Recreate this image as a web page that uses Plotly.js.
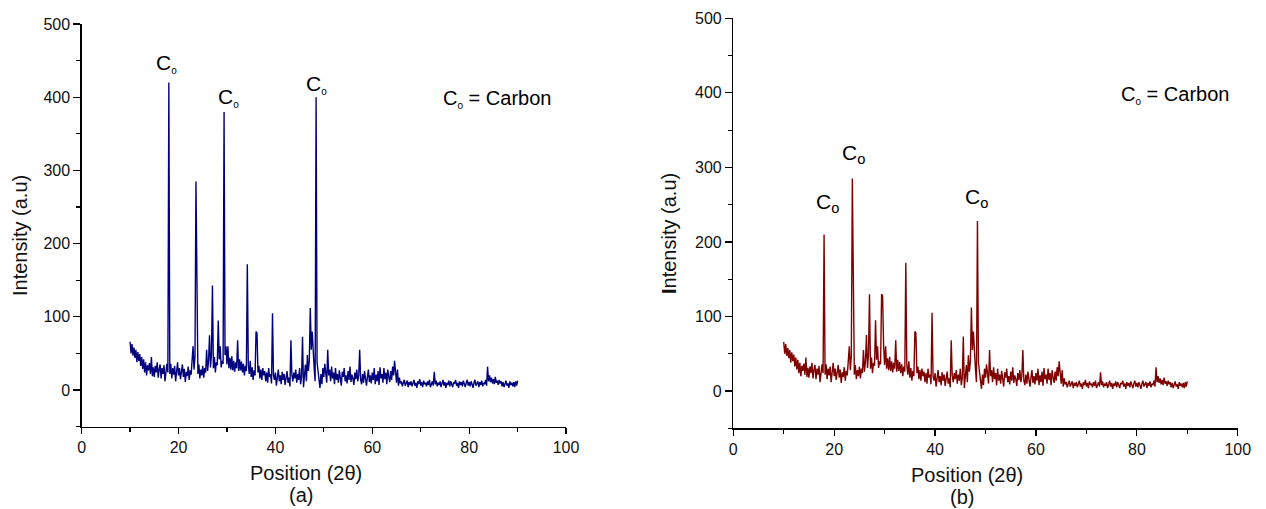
<!DOCTYPE html>
<html>
<head>
<meta charset="utf-8">
<script src="https://cdn.plot.ly/plotly-3.0.1.min.js"></script>
<style>html,body{margin:0;padding:0;background:#fff;}#chart{width:1266px;height:509px;}</style>
</head>
<body>
<div id="chart"></div>
<script>
// 2-theta positions (degrees)
const twoTheta = [
10,10.2,10.4,10.6,10.8, 11,11.2,11.4,11.6,11.8, 12,12.2,12.4,12.6,12.8, 13,13.2,13.4,13.6,13.8,
14,14.2,14.4,14.6,14.8, 15,15.2,15.4,15.6,15.8, 16,16.2,16.4,16.6,16.8, 17,17.2,17.4,17.6,17.8,
18,18.2,18.4,18.6,18.8, 19,19.2,19.4,19.6,19.8, 20,20.2,20.4,20.6,20.8, 21,21.2,21.4,21.6,21.8,
22,22.2,22.4,22.6,22.8, 23,23.2,23.4,23.6,23.8, 24,24.2,24.4,24.6,24.8, 25,25.2,25.4,25.6,25.8,
26,26.2,26.4,26.6,26.8, 27,27.2,27.4,27.6,27.8, 28,28.2,28.4,28.6,28.8, 29,29.2,29.4,29.6,29.8,
30,30.2,30.4,30.6,30.8, 31,31.2,31.4,31.6,31.8, 32,32.2,32.4,32.6,32.8, 33,33.2,33.4,33.6,33.8,
34,34.2,34.4,34.6,34.8, 35,35.2,35.4,35.6,35.8, 36,36.2,36.4,36.6,36.8, 37,37.2,37.4,37.6,37.8,
38,38.2,38.4,38.6,38.8, 39,39.2,39.4,39.6,39.8, 40,40.2,40.4,40.6,40.8, 41,41.2,41.4,41.6,41.8,
42,42.2,42.4,42.6,42.8, 43,43.2,43.4,43.6,43.8, 44,44.2,44.4,44.6,44.8, 45,45.2,45.4,45.6,45.8,
46,46.2,46.4,46.6,46.8, 47,47.2,47.4,47.6,47.8, 48,48.2,48.4,48.6,48.8, 49,49.2,49.4,49.6,49.8,
50,50.2,50.4,50.6,50.8, 51,51.2,51.4,51.6,51.8, 52,52.2,52.4,52.6,52.8, 53,53.2,53.4,53.6,53.8,
54,54.2,54.4,54.6,54.8, 55,55.2,55.4,55.6,55.8, 56,56.2,56.4,56.6,56.8, 57,57.2,57.4,57.6,57.8,
58,58.2,58.4,58.6,58.8, 59,59.2,59.4,59.6,59.8, 60,60.2,60.4,60.6,60.8, 61,61.2,61.4,61.6,61.8,
62,62.2,62.4,62.6,62.8, 63,63.2,63.4,63.6,63.8, 64,64.2,64.4,64.6,64.8, 65,65.2,65.4,65.6,65.8,
66,66.2,66.4,66.6,66.8, 67,67.2,67.4,67.6,67.8, 68,68.2,68.4,68.6,68.8, 69,69.2,69.4,69.6,69.8,
70,70.2,70.4,70.6,70.8, 71,71.2,71.4,71.6,71.8, 72,72.2,72.4,72.6,72.8, 73,73.2,73.4,73.6,73.8,
74,74.2,74.4,74.6,74.8, 75,75.2,75.4,75.6,75.8, 76,76.2,76.4,76.6,76.8, 77,77.2,77.4,77.6,77.8,
78,78.2,78.4,78.6,78.8, 79,79.2,79.4,79.6,79.8, 80,80.2,80.4,80.6,80.8, 81,81.2,81.4,81.6,81.8,
82,82.2,82.4,82.6,82.8, 83,83.2,83.4,83.6,83.8, 84,84.2,84.4,84.6,84.8, 85,85.2,85.4,85.6,85.8,
86,86.2,86.4,86.6,86.8, 87,87.2,87.4,87.6,87.8, 88,88.2,88.4,88.6,88.8, 89,89.2,89.4,89.6,89.8,
90
];

// Intensity, sample (a)
const intensityA = [
66,50,63,47,58, 44,55,38,52,40, 49,33,45,29,42, 24,38,20,34,27,
37,22,45,19,31, 18,33,24,38,17, 28,35,16,30,22, 34,12,27,36,24,
420,22,36,16,30, 21,33,12,28,38, 20,30,15,27,35, 18,29,11,25,19,
32,14,27,21,36, 60,28,46,285,172, 22,35,16,28,20, 33,17,30,24,55,
26,40,75,31,48, 143,30,45,24,38, 34,95,42,60,31, 40,36,380,48,60,
35,60,30,44,28, 46,27,40,25,38, 30,68,26,42,27, 39,24,36,20,33,
26,172,35,22,40, 18,31,14,27,20, 80,78,24,33,16, 28,14,30,20,26,
12,24,10,30,18, 22,9,105,20,14, 24,6,19,28,12, 20,8,25,14,22,
7,18,26,10,17, 5,68,21,12,24, 16,28,10,22,14, 30,8,18,73,4,
22,35,12,48,26, 40,112,55,80,45, 30,12,400,38,25, 14,3,22,8,30,
18,36,24,10,55, 20,28,12,32,16, 24,8,30,14,22, 10,27,16,6,25,
18,30,12,20,9, 26,14,32,11,21, 16,7,24,15,28, 12,20,55,14,8,
22,10,26,16,6, 18,28,11,20,9, 24,14,30,8,21, 12,26,7,31,16,
22,10,30,15,24, 8,28,18,11,26, 14,32,20,40,24, 10,28,6,17,9,
12,5,10,14,6, 9,13,4,11,7, 12,5,9,14,6, 10,3,12,8,15,
6,11,4,13,8, 10,5,12,7,14, 4,9,12,6,25, 8,13,5,10,7,
12,4,9,14,6, 11,3,10,7,13, 5,12,8,4,11, 9,14,6,10,3,
12,7,11,5,13, 8,4,10,14,6, 11,5,12,8,3, 10,14,6,9,12,
4,11,7,13,5, 10,8,14,6,32, 12,20,11,17,9, 15,8,18,10,13,
7,14,9,12,5, 11,4,10,13,6, 9,3,12,7,10, 5,11,4,12,6,
13
];

// Intensity, sample (b)
const intensityB = [
66,50,63,47,58, 44,55,38,52,40, 49,33,45,29,42, 24,38,20,34,27,
37,22,45,19,31, 18,33,24,38,17, 28,35,16,30,22, 34,12,27,36,24,
210,22,36,16,30, 21,33,12,28,38, 20,30,15,27,35, 18,29,11,25,19,
32,14,27,21,36, 60,28,46,285,172, 22,35,16,28,20, 33,17,30,24,55,
26,40,75,31,48, 130,30,45,24,38, 34,95,42,60,31, 40,36,130,128,60,
35,60,30,44,28, 46,27,40,25,38, 30,68,26,42,27, 39,24,36,20,33,
26,172,35,22,40, 18,31,14,27,20, 80,78,24,33,16, 28,14,30,20,26,
12,24,10,30,18, 22,9,105,20,14, 24,6,19,28,12, 20,8,25,14,22,
7,18,26,10,17, 5,68,21,12,24, 16,28,10,22,14, 30,8,18,73,4,
22,35,12,48,26, 40,112,55,80,45, 30,12,228,38,25, 14,3,22,8,30,
18,36,24,10,55, 20,28,12,32,16, 24,8,30,14,22, 10,27,16,6,25,
18,30,12,20,9, 26,14,32,11,21, 16,7,24,15,28, 12,20,55,14,8,
22,10,26,16,6, 18,28,11,20,9, 24,14,30,8,21, 12,26,7,31,16,
22,10,30,15,24, 8,28,18,11,26, 14,32,20,40,24, 10,28,6,17,9,
12,5,10,14,6, 9,13,4,11,7, 12,5,9,14,6, 10,3,12,8,15,
6,11,4,13,8, 10,5,12,7,14, 4,9,12,6,25, 8,13,5,10,7,
12,4,9,14,6, 11,3,10,7,13, 5,12,8,4,11, 9,14,6,10,3,
12,7,11,5,13, 8,4,10,14,6, 11,5,12,8,3, 10,14,6,9,12,
4,11,7,13,5, 10,8,14,6,32, 12,20,11,17,9, 15,8,18,10,13,
7,14,9,12,5, 11,4,10,13,6, 9,3,12,7,10, 5,11,4,12,6,
13
];

// Peak labels: [x, y] positions in data units
const labelsA_x = [17.6, 30.4, 48.5];
const labelsA_y = [446, 400, 417];
const labelsB_x = [18.7, 23.9, 48.3];
const labelsB_y = [252, 318, 259];
const legendTextA = {x: 85.8, y: 398};
const legendTextB = {x: 87.6, y: 397};

const FONT = 'Liberation Sans, Arial, sans-serif';

function xAxis(domain, anchor) {
  return {
    domain: domain, anchor: anchor, range: [0, 100], tick0: 0, dtick: 20,
    showline: true, linecolor: '#000', linewidth: 1.3, mirror: false,
    ticks: 'outside', ticklen: 6, tickwidth: 1.2, tickcolor: '#000',
    minor: {dtick: 10, ticklen: 4, tickwidth: 1.2, tickcolor: '#000', ticks: 'outside'},
    showgrid: false, zeroline: false,
    tickfont: {family: FONT, size: 16, color: '#111'}
  };
}
function yAxis(domain, anchor) {
  return {
    domain: domain, anchor: anchor, range: [-50, 500], tick0: 0, dtick: 100,
    showline: true, linecolor: '#000', linewidth: 1.3, mirror: false,
    ticks: 'outside', ticklen: 7, tickwidth: 1.2, tickcolor: '#000',
    minor: {dtick: 50, ticklen: 4, tickwidth: 1.2, tickcolor: '#000', ticks: 'outside'},
    showgrid: false, zeroline: false,
    tickfont: {family: FONT, size: 16, color: '#111'}
  };
}

const traces = [
  {x: twoTheta, y: intensityA, xaxis: 'x', yaxis: 'y', type: 'scatter', mode: 'lines',
   line: {color: '#00007f', width: 1.4}, hoverinfo: 'skip', showlegend: false},
  {x: twoTheta, y: intensityB, xaxis: 'x2', yaxis: 'y2', type: 'scatter', mode: 'lines',
   line: {color: '#7f0000', width: 1.4}, hoverinfo: 'skip', showlegend: false}
];

const annots = [];
const subSmall = '<span style="font-size:10px">o</span>';
for (let i = 0; i < labelsA_x.length; i++) {
  annots.push({x: labelsA_x[i], y: labelsA_y[i], xref: 'x', yref: 'y', showarrow: false,
    text: 'C<sub>' + subSmall + '</sub>', font: {family: FONT, size: 21, color: '#000'}});
}
for (let i = 0; i < labelsB_x.length; i++) {
  annots.push({x: labelsB_x[i], y: labelsB_y[i], xref: 'x2', yref: 'y2', showarrow: false,
    text: 'C<sub>o</sub>', font: {family: FONT, size: 21, color: '#000'}});
}
annots.push({x: legendTextA.x, y: legendTextA.y, xref: 'x', yref: 'y', showarrow: false,
  text: 'C<sub>' + subSmall + '</sub> = Carbon', font: {family: FONT, size: 20, color: '#000'}});
annots.push({x: legendTextB.x, y: legendTextB.y, xref: 'x2', yref: 'y2', showarrow: false,
  text: 'C<sub>' + subSmall + '</sub> = Carbon', font: {family: FONT, size: 20, color: '#000'}});

// Axis titles and panel letters
const titleFont = {family: FONT, size: 20, color: '#111'};
annots.push({x: 46.3, y: 1 - 473 / 509, xref: 'x', yref: 'paper', showarrow: false,
  text: 'Position (2θ)', font: titleFont, yanchor: 'middle', borderpad: 0});
annots.push({x: 45.2, y: 1 - 495 / 509, xref: 'x', yref: 'paper', showarrow: false,
  text: '(a)', font: titleFont, yanchor: 'middle', borderpad: 0});
annots.push({x: 46.3, y: 1 - 475 / 509, xref: 'x2', yref: 'paper', showarrow: false,
  text: 'Position (2θ)', font: titleFont, yanchor: 'middle', borderpad: 0});
annots.push({x: 45.3, y: 1 - 497 / 509, xref: 'x2', yref: 'paper', showarrow: false,
  text: '(b)', font: titleFont, yanchor: 'middle', borderpad: 0});
annots.push({x: 19.5 / 1266, y: 1 - 235.5 / 509, xref: 'paper', yref: 'paper', showarrow: false,
  text: 'Intensity (a.u)', font: titleFont, textangle: -90, xanchor: 'center', yanchor: 'middle'});
annots.push({x: 669 / 1266, y: 1 - 234 / 509, xref: 'paper', yref: 'paper', showarrow: false,
  text: '<b>I</b>ntensity (a.u)', font: titleFont, textangle: -90, xanchor: 'center', yanchor: 'middle'});

const layout = {
  width: 1266, height: 509,
  margin: {l: 0, r: 0, t: 0, b: 0},
  paper_bgcolor: '#fff', plot_bgcolor: '#fff',
  showlegend: false,
  xaxis: xAxis([0.0645, 0.4471], 'y'),
  yaxis: yAxis([0.1617, 0.9528], 'x'),
  xaxis2: xAxis([0.5792, 0.9777], 'y2'),
  yaxis2: yAxis([0.1585, 0.9640], 'x2'),
  annotations: annots
};

Plotly.newPlot('chart', traces, layout, {displayModeBar: false, staticPlot: true});
</script>
</body>
</html>
